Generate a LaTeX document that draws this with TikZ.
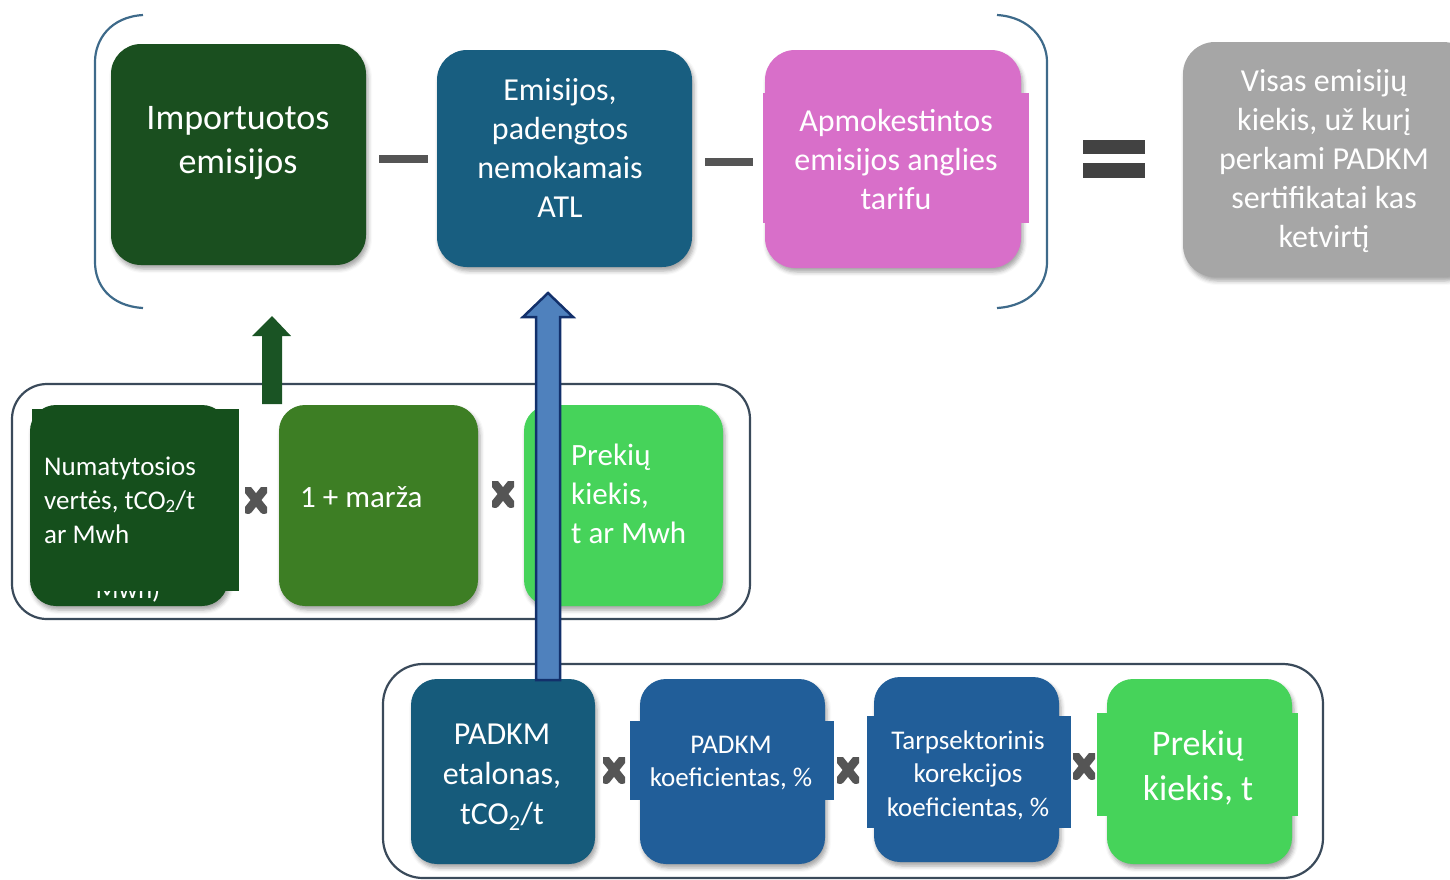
\documentclass[tikz,border=0pt]{standalone}
\usepackage{fontspec}
\setmainfont{Carlito}
\usetikzlibrary{shadows.blur}
\definecolor{impgreen}{HTML}{1A4F1F}
\definecolor{numgreen}{HTML}{154F1C}
\definecolor{emiteal}{HTML}{185E80}
\definecolor{pinkc}{HTML}{D86FC9}
\definecolor{grayc}{HTML}{A6A6A6}
\definecolor{opgray}{HTML}{555555}
\definecolor{eqgray}{HTML}{424242}
\definecolor{midgreen}{HTML}{3D7E24}
\definecolor{lightgreen}{HTML}{46D35A}
\definecolor{etalblue}{HTML}{165B7B}
\definecolor{koefblue}{HTML}{215E99}
\definecolor{brackc}{HTML}{3E6A8A}
\definecolor{framec}{HTML}{3A4A5A}
\definecolor{arrowfill}{HTML}{4F81BD}
\definecolor{arrowline}{HTML}{12306B}
\definecolor{darrow}{HTML}{1A5424}
\newcommand\myfs[2]{\fontsize{#1}{#2}\selectfont}
\begin{document}
\begin{tikzpicture}[x=1pt,y=-1pt,
  box/.style={rounded corners=#1, inner sep=0, draw=none,
    blur shadow={shadow xshift=2pt, shadow yshift=-4pt, shadow opacity=35, shadow blur radius=4pt}},
  box/.default=26pt,
  overlay/.style={inner sep=0, draw=none},
  txt/.style={text=white, align=center, inner sep=0},
  ltxt/.style={text=white, align=left, inner sep=0, anchor=west},
  opx/.style={minimum width=22pt, minimum height=26pt, inner sep=0,
    path picture={\draw[line width=8.5pt, opgray, line cap=round]
      ([shift={(3pt,-3pt)}]path picture bounding box.north west) -- ([shift={(-3pt,3pt)}]path picture bounding box.south east)
      ([shift={(-3pt,-3pt)}]path picture bounding box.north east) -- ([shift={(3pt,3pt)}]path picture bounding box.south west);}},
  frame/.style={draw=framec, line width=2.2pt, rounded corners=#1, inner sep=0},
  bar/.style={inner sep=0, draw=none}
]
\useasboundingbox (0,0) rectangle (1450,879);

% ---------- top row ----------
\draw[brackc, line width=2.2pt] (143,15) .. controls (110,17) and (95,40) .. (95,62)
  -- (95,262) .. controls (95,285) and (110,306) .. (143,308);
\draw[brackc, line width=2.2pt] (997,15) .. controls (1030,17) and (1047,40) .. (1047,62)
  -- (1047,262) .. controls (1047,285) and (1030,306) .. (997,308);

\node[box=30pt, fill=impgreen, minimum width=255pt, minimum height=221pt] (imp) at (238.5,154.5) {};
\node[txt, font=\myfs{36}{44}] (impT) at (238,143) {Importuotos\\emisijos};

\node[bar, fill=opgray, minimum width=49pt, minimum height=8pt] (minus1) at (403.5,158.5) {};

\node[box=30pt, fill=emiteal, minimum width=255pt, minimum height=217pt] (emi) at (564.5,158.5) {};
\node[txt, font=\myfs{32}{39}] (emiT) at (560,148) {Emisijos,\\padengtos\\nemokamais\\ATL};

\node[bar, fill=opgray, minimum width=48pt, minimum height=8pt] (minus2) at (729,161.5) {};

\node[box=30pt, fill=pinkc, minimum width=256pt, minimum height=218pt] (pink) at (893,159) {};
\node[overlay, fill=pinkc, minimum width=266pt, minimum height=130pt] (pinkO) at (896,158) {};
\node[txt, font=\myfs{32}{39}] (pinkT) at (896,160) {Apmokestintos\\emisijos anglies\\tarifu};

\node[bar, fill=eqgray, minimum width=62pt, minimum height=14pt] (eq1) at (1114,147) {};
\node[bar, fill=eqgray, minimum width=62pt, minimum height=15pt] (eq2) at (1114,170.5) {};

\node[box=32pt, fill=grayc, minimum width=292pt, minimum height=235pt] (gray) at (1329,159.5) {};
\node[txt, font=\myfs{32}{39}] (grayT) at (1324,161) {Visas emisijų\\kiekis, už kurį\\perkami PADKM\\sertifikatai kas\\ketvirtį};

% ---------- middle row ----------
\node[frame=35pt, minimum width=738pt, minimum height=235pt] (midF) at (381,501.5) {};

\node[box, fill=numgreen, minimum width=198pt, minimum height=201pt] (num) at (129,505.5) {};
\node[text=white, inner sep=0, font=\myfs{27}{34}, anchor=base] (numHidden) at (128,598) {Mwh)};
\node[overlay, fill=numgreen, minimum width=207pt, minimum height=182pt] (numO) at (135.5,500) {};
\node[ltxt, font=\myfs{27}{34}] (numT) at (44,500) {Numatytosios\\vertės, tCO\textsubscript{2}/t\\ar Mwh};

\node[opx] (x1) at (256,500) {};

\node[box, fill=midgreen, minimum width=199pt, minimum height=201pt] (marza) at (378.5,505.5) {};
\node[ltxt, font=\myfs{31}{38}] (marzaT) at (300,497) {1 + marža};

\node[opx] (x2) at (503,494) {};

\node[box, fill=lightgreen, minimum width=199pt, minimum height=201pt] (prek1) at (623.5,505.5) {};
\node[ltxt, font=\myfs{31}{39}] (prek1T) at (571,494) {Prekių\\kiekis,\\t ar Mwh};

% dark green arrow up
\coordinate (gaBot) at (272,404);
\coordinate (gaTip) at (272,316);
\fill[darrow] (262,404) -- (262,336) -- (252,336) -- (gaTip) -- (291,336) -- (282,336) -- (282,404) -- cycle;

% ---------- bottom row ----------
\node[frame=40pt, minimum width=940pt, minimum height=214pt] (botF) at (853,771) {};

\node[box, fill=etalblue, minimum width=184pt, minimum height=185pt] (etal) at (503,771.5) {};
\node[txt, font=\myfs{32}{40}] (etalT) at (502,777) {PADKM\\etalonas,\\tCO\textsubscript{2}/t};

\node[opx] (x3) at (614,770) {};

\node[box, fill=koefblue, minimum width=185pt, minimum height=185pt] (koef) at (732.5,771.5) {};
\node[overlay, fill=koefblue, minimum width=204pt, minimum height=79pt] (koefO) at (732,760.5) {};
\node[txt, font=\myfs{27}{33}] (koefT) at (731,763) {PADKM\\koeficientas, \%};

\node[opx] (x4) at (848,770) {};

\node[box, fill=koefblue, minimum width=185pt, minimum height=185pt] (tarp) at (966.5,769.5) {};
\node[overlay, fill=koefblue, minimum width=204pt, minimum height=112pt] (tarpO) at (969,772) {};
\node[txt, font=\myfs{27}{33.5}] (tarpT) at (968,775) {Tarpsektorinis\\korekcijos\\koeficientas, \%};

\node[opx] (x5) at (1084,766) {};

\node[box, fill=lightgreen, minimum width=185pt, minimum height=185pt] (prek2) at (1199.5,771.5) {};
\node[overlay, fill=lightgreen, minimum width=201pt, minimum height=103pt] (prek2O) at (1197.5,764.5) {};
\node[txt, font=\myfs{36}{45}] (prek2T) at (1198,768) {Prekių\\kiekis, t};

% blue arrow up from bottom frame to top box
\coordinate (baBot) at (548,680);
\coordinate (baTip) at (548,293);
\filldraw[fill=arrowfill, draw=arrowline, line width=2.5pt, line join=miter]
  (536,680) -- (536,317) -- (523,317) -- (baTip) -- (573,317) -- (560,317) -- (560,680) -- cycle;

\end{tikzpicture}
\end{document}
